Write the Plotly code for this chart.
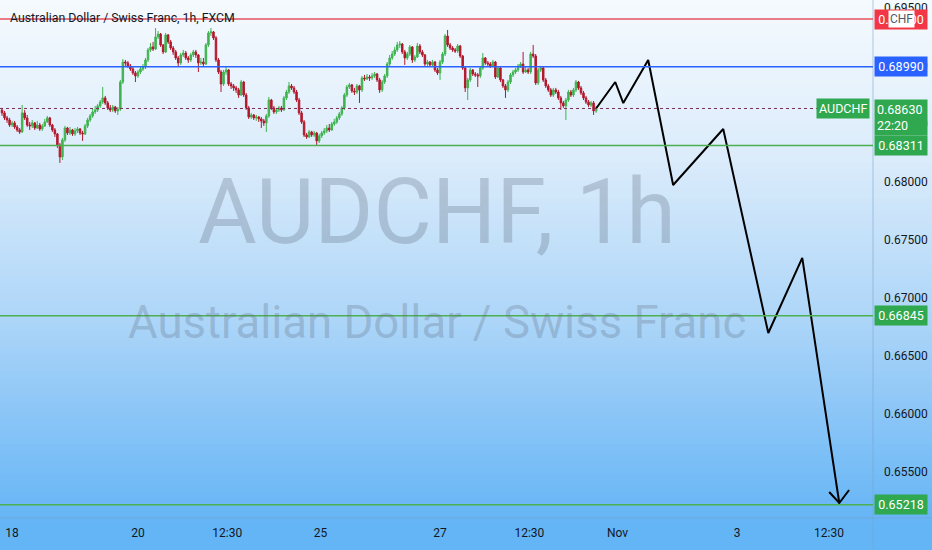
import plotly.graph_objects as go

# ---------------- data ----------------
title_text = "Australian Dollar / Swiss Franc, 1h, FXCM"
watermark_main = "AUDCHF, 1h"
watermark_sub = "Australian Dollar / Swiss Franc"
symbol = "AUDCHF"
countdown = "22:20"

bar_index = list(range(-4, 233))
first_open = 0.68617
closes = [
    0.68592, 0.68549, 0.68531, 0.68488, 0.68506, 0.68471, 0.68445, 0.68428, 0.68592, 0.68549,
    0.68488, 0.68480, 0.68506, 0.68462, 0.68488, 0.68454, 0.68480, 0.68514, 0.68549, 0.68488,
    0.68445, 0.68411, 0.68316, 0.68213, 0.68359, 0.68462, 0.68419, 0.68445, 0.68411, 0.68437,
    0.68454, 0.68419, 0.68411, 0.68480, 0.68531, 0.68566, 0.68600, 0.68617, 0.68652, 0.68686,
    0.68721, 0.68678, 0.68635, 0.68617, 0.68643, 0.68609, 0.68626, 0.68858, 0.69030, 0.69022,
    0.68996, 0.68970, 0.68936, 0.68910, 0.68944, 0.68970, 0.68987, 0.69048, 0.69134, 0.69160,
    0.69142, 0.69246, 0.69271, 0.69177, 0.69117, 0.69263, 0.69203, 0.69151, 0.69117, 0.69065,
    0.69022, 0.69091, 0.69108, 0.69065, 0.69048, 0.69091, 0.69117, 0.69091, 0.69022, 0.69030,
    0.69013, 0.69177, 0.69280, 0.69289, 0.69237, 0.69048, 0.68944, 0.68841, 0.68944, 0.68962,
    0.68841, 0.68824, 0.68807, 0.68790, 0.68746, 0.68858, 0.68746, 0.68635, 0.68557, 0.68574,
    0.68549, 0.68557, 0.68540, 0.68523, 0.68506, 0.68566, 0.68703, 0.68635, 0.68600, 0.68617,
    0.68635, 0.68617, 0.68721, 0.68772, 0.68824, 0.68807, 0.68772, 0.68703, 0.68592, 0.68514,
    0.68402, 0.68385, 0.68428, 0.68402, 0.68419, 0.68351, 0.68394, 0.68419, 0.68437, 0.68462,
    0.68445, 0.68497, 0.68514, 0.68549, 0.68583, 0.68635, 0.68746, 0.68815, 0.68833, 0.68781,
    0.68772, 0.68824, 0.68790, 0.68893, 0.68884, 0.68901, 0.68893, 0.68910, 0.68927, 0.68876,
    0.68790, 0.68858, 0.68910, 0.69013, 0.69065, 0.69099, 0.69134, 0.69177, 0.69185, 0.69117,
    0.69065, 0.69099, 0.69160, 0.69048, 0.69073, 0.69168, 0.69117, 0.69091, 0.69013, 0.69030,
    0.69005, 0.69030, 0.68962, 0.68936, 0.69030, 0.69099, 0.69254, 0.69177, 0.69151, 0.69134,
    0.69125, 0.69168, 0.69082, 0.68979, 0.68807, 0.68876, 0.68962, 0.68927, 0.68919, 0.68910,
    0.68979, 0.69065, 0.69022, 0.69013, 0.68996, 0.69030, 0.68901, 0.68979, 0.68876, 0.68824,
    0.68790, 0.68858, 0.68919, 0.68944, 0.68962, 0.68996, 0.69013, 0.68944, 0.68962, 0.68944,
    0.69099, 0.69082, 0.68850, 0.68962, 0.68979, 0.68876, 0.68824, 0.68790, 0.68746, 0.68790,
    0.68772, 0.68721, 0.68678, 0.68652, 0.68703, 0.68772, 0.68746, 0.68790, 0.68858, 0.68807,
    0.68764, 0.68721, 0.68686, 0.68660, 0.68678, 0.68609, 0.68630,
]
highs = [
    0.68635, 0.68609, 0.68566, 0.68549, 0.68523, 0.68523, 0.68488, 0.68462, 0.68660, 0.68617,
    0.68574, 0.68514, 0.68531, 0.68514, 0.68523, 0.68506, 0.68497, 0.68540, 0.68566, 0.68557,
    0.68497, 0.68462, 0.68419, 0.68333, 0.68376, 0.68480, 0.68471, 0.68471, 0.68454, 0.68462,
    0.68471, 0.68462, 0.68437, 0.68497, 0.68549, 0.68583, 0.68626, 0.68652, 0.68669, 0.68703,
    0.68815, 0.68738, 0.68695, 0.68660, 0.68660, 0.68652, 0.68643, 0.68876, 0.69056, 0.69048,
    0.69039, 0.69013, 0.68987, 0.68953, 0.68962, 0.68987, 0.69013, 0.69065, 0.69151, 0.69194,
    0.69203, 0.69323, 0.69297, 0.69280, 0.69185, 0.69280, 0.69271, 0.69220, 0.69168, 0.69134,
    0.69082, 0.69108, 0.69134, 0.69125, 0.69082, 0.69108, 0.69134, 0.69134, 0.69099, 0.69065,
    0.69065, 0.69194, 0.69297, 0.69323, 0.69297, 0.69254, 0.69065, 0.68962, 0.68962, 0.68996,
    0.68970, 0.68858, 0.68841, 0.68824, 0.68807, 0.68876, 0.68867, 0.68764, 0.68652, 0.68592,
    0.68583, 0.68574, 0.68566, 0.68557, 0.68540, 0.68583, 0.68729, 0.68712, 0.68652, 0.68635,
    0.68652, 0.68652, 0.68738, 0.68790, 0.68858, 0.68841, 0.68824, 0.68790, 0.68721, 0.68609,
    0.68531, 0.68419, 0.68445, 0.68437, 0.68437, 0.68428, 0.68411, 0.68437, 0.68462, 0.68488,
    0.68497, 0.68514, 0.68540, 0.68566, 0.68600, 0.68652, 0.68764, 0.68833, 0.68850, 0.68841,
    0.68807, 0.68841, 0.68833, 0.68910, 0.68919, 0.68927, 0.68919, 0.68936, 0.68944, 0.68936,
    0.68893, 0.68876, 0.68927, 0.69030, 0.69091, 0.69125, 0.69160, 0.69203, 0.69211, 0.69194,
    0.69134, 0.69117, 0.69177, 0.69168, 0.69091, 0.69194, 0.69185, 0.69134, 0.69099, 0.69048,
    0.69039, 0.69048, 0.69039, 0.68979, 0.69048, 0.69117, 0.69271, 0.69306, 0.69194, 0.69168,
    0.69151, 0.69185, 0.69177, 0.69091, 0.68996, 0.68893, 0.68979, 0.68970, 0.68944, 0.68936,
    0.68996, 0.69108, 0.69073, 0.69039, 0.69030, 0.69048, 0.69039, 0.68996, 0.68987, 0.68884,
    0.68841, 0.68876, 0.68936, 0.68962, 0.68979, 0.69013, 0.69030, 0.69117, 0.68987, 0.68979,
    0.69117, 0.69177, 0.69099, 0.68979, 0.68996, 0.68987, 0.68893, 0.68841, 0.68807, 0.68807,
    0.68807, 0.68790, 0.68738, 0.68695, 0.68721, 0.68790, 0.68790, 0.68807, 0.68876, 0.68867,
    0.68824, 0.68781, 0.68738, 0.68703, 0.68695, 0.68695, 0.68652,
]
lows = [
    0.68566, 0.68531, 0.68506, 0.68471, 0.68471, 0.68454, 0.68428, 0.68411, 0.68419, 0.68531,
    0.68471, 0.68445, 0.68462, 0.68445, 0.68454, 0.68437, 0.68437, 0.68471, 0.68506, 0.68471,
    0.68428, 0.68385, 0.68290, 0.68161, 0.68187, 0.68342, 0.68402, 0.68402, 0.68394, 0.68394,
    0.68419, 0.68402, 0.68351, 0.68402, 0.68462, 0.68514, 0.68549, 0.68583, 0.68600, 0.68635,
    0.68669, 0.68660, 0.68617, 0.68600, 0.68600, 0.68592, 0.68574, 0.68609, 0.68841, 0.68996,
    0.68979, 0.68953, 0.68919, 0.68858, 0.68893, 0.68927, 0.68953, 0.68970, 0.69030, 0.69117,
    0.69125, 0.69134, 0.69228, 0.69160, 0.69099, 0.69108, 0.69185, 0.69134, 0.69091, 0.69048,
    0.68996, 0.69005, 0.69073, 0.69048, 0.69022, 0.69030, 0.69073, 0.69065, 0.68944, 0.69005,
    0.68996, 0.69005, 0.69160, 0.69254, 0.69220, 0.69030, 0.68927, 0.68772, 0.68824, 0.68919,
    0.68824, 0.68798, 0.68781, 0.68764, 0.68721, 0.68738, 0.68729, 0.68617, 0.68540, 0.68540,
    0.68531, 0.68523, 0.68514, 0.68462, 0.68480, 0.68428, 0.68549, 0.68617, 0.68583, 0.68583,
    0.68600, 0.68600, 0.68609, 0.68703, 0.68755, 0.68790, 0.68755, 0.68686, 0.68574, 0.68497,
    0.68385, 0.68368, 0.68376, 0.68385, 0.68385, 0.68316, 0.68333, 0.68376, 0.68402, 0.68419,
    0.68428, 0.68437, 0.68480, 0.68497, 0.68531, 0.68566, 0.68617, 0.68729, 0.68798, 0.68764,
    0.68746, 0.68755, 0.68678, 0.68772, 0.68867, 0.68876, 0.68867, 0.68876, 0.68893, 0.68858,
    0.68764, 0.68772, 0.68841, 0.68893, 0.68996, 0.69048, 0.69082, 0.69117, 0.69151, 0.69099,
    0.69005, 0.69048, 0.69082, 0.69022, 0.69030, 0.69065, 0.69099, 0.69073, 0.68996, 0.68996,
    0.68987, 0.68987, 0.68944, 0.68919, 0.68876, 0.69013, 0.69082, 0.69160, 0.69134, 0.69117,
    0.69108, 0.69108, 0.69065, 0.68962, 0.68772, 0.68703, 0.68858, 0.68910, 0.68901, 0.68815,
    0.68893, 0.68962, 0.69005, 0.68996, 0.68979, 0.68987, 0.68884, 0.68893, 0.68858, 0.68807,
    0.68721, 0.68772, 0.68841, 0.68901, 0.68927, 0.68944, 0.68979, 0.68927, 0.68936, 0.68927,
    0.68927, 0.69065, 0.68833, 0.68833, 0.68944, 0.68858, 0.68807, 0.68772, 0.68729, 0.68729,
    0.68755, 0.68703, 0.68617, 0.68635, 0.68531, 0.68686, 0.68729, 0.68729, 0.68772, 0.68790,
    0.68746, 0.68703, 0.68669, 0.68643, 0.68643, 0.68574, 0.68592,
]
opens = [first_open] + closes[:-1]

# horizontal levels
level_values = [0.69400, 0.68990, 0.68311, 0.66845, 0.65218]
level_kinds = ["red", "blue", "green", "green", "green"]
last_price = 0.68630

# projected path
proj_x = [232, 239.6, 242.8, 252.7, 262.6, 282.5, 300.4, 313.9, 328.6]
proj_y = [0.68630, 0.68858, 0.68677, 0.69047, 0.67971, 0.68453, 0.66697, 0.67343, 0.65233]
arrow_x = [324.6, 328.6, 332.5]
arrow_y = [0.65328, 0.65233, 0.65345]

# x axis
tick_pos = [0, 50, 85.5, 122.5, 170, 205.5, 240.5, 288, 324.5]
tick_text = ["18", "20", "12:30", "25", "27", "12:30", "Nov", "3", "12:30"]
x_range = [-4.8, 342]
y_range = [0.65104, 0.69564]

# ---------------- style ----------------
W, H = 932, 550
ML, MR, MT, MB = 0, 59, 0, 32
PW, PH = W - ML - MR, H - MT - MB
FONT = "Roboto, Liberation Sans, sans-serif"
UP, DOWN = "#3fb34f", "#b3182c"
LINE_COL = {"red": "#e8505f", "blue": "#2962ff", "green": "#4caf50"}
LABEL_COL = {"red": "#f23645", "blue": "#2962ff", "green": "#2fa84f"}
WM_COL = "rgba(95,110,128,0.30)"

fig = go.Figure()
fig.add_trace(go.Candlestick(
    x=bar_index, open=opens, high=highs, low=lows, close=closes,
    increasing=dict(line=dict(color=UP, width=1), fillcolor=UP),
    decreasing=dict(line=dict(color=DOWN, width=1), fillcolor=DOWN),
    whiskerwidth=0, showlegend=False, hoverinfo="skip",
))
fig.add_trace(go.Scatter(x=proj_x, y=proj_y, mode="lines",
                         line=dict(color="#000000", width=2), showlegend=False, hoverinfo="skip"))
fig.add_trace(go.Scatter(x=arrow_x, y=arrow_y, mode="lines",
                         line=dict(color="#000000", width=2), showlegend=False, hoverinfo="skip"))

shapes = []
# background gradient (page coords -> paper coords)
stops = [(0.0, (246, 250, 254)), (0.3, (220, 236, 251)), (0.62, (172, 213, 248)), (1.0, (102, 181, 246))]
def grad(t):
    for (t0, c0), (t1, c1) in zip(stops[:-1], stops[1:]):
        if t <= t1:
            f = (t - t0) / (t1 - t0)
            return "rgb(%d,%d,%d)" % tuple(round(a + (b - a) * f) for a, b in zip(c0, c1))
    return "rgb(%d,%d,%d)" % stops[-1][1]
step = 6
for py in range(0, PH, step):
    shapes.append(dict(type="rect", xref="paper", yref="paper", layer="below",
                       x0=0, x1=W / PW, y0=(PH - py - step - 0.5) / PH, y1=(PH - py) / PH,
                       fillcolor=grad((py + step / 2) / PH), line=dict(width=0)))
# axis separators
shapes.append(dict(type="line", xref="paper", yref="paper", x0=1, x1=1, y0=-MB / PH, y1=1,
                   line=dict(color="rgba(120,160,200,0.55)", width=1)))
shapes.append(dict(type="line", xref="paper", yref="paper", x0=0, x1=W / PW, y0=0, y1=0,
                   line=dict(color="rgba(120,160,200,0.55)", width=1)))
# level lines
for v, k in zip(level_values, level_kinds):
    shapes.append(dict(type="line", xref="paper", yref="y", x0=0, x1=1, y0=v, y1=v,
                       line=dict(color=LINE_COL[k], width=1.5)))
shapes.append(dict(type="line", xref="paper", yref="y", x0=0, x1=0.94, y0=last_price, y1=last_price,
                   line=dict(color="#7b2d55", width=1, dash="dot")))

ann = []
ann.append(dict(text=watermark_main, xref="paper", yref="paper", x=0.5, y=1 - 212 / PH,
                xanchor="center", yanchor="middle", showarrow=False,
                font=dict(family=FONT, size=90, color=WM_COL)))
ann.append(dict(text=watermark_sub, xref="paper", yref="paper", x=0.5, y=1 - 322 / PH,
                xanchor="center", yanchor="middle", showarrow=False,
                font=dict(family=FONT, size=45.5, color=WM_COL)))
ann.append(dict(text=title_text, xref="paper", yref="paper", x=8 / PW, y=1 - 18 / PH,
                xanchor="left", yanchor="middle", showarrow=False,
                font=dict(family=FONT, size=12.3, color="#131722")))
for v, k in zip(level_values, level_kinds):
    ann.append(dict(text="%.5f" % v, xref="paper", yref="y", x=1, y=v, xanchor="left", yanchor="middle",
                    showarrow=False, bgcolor=LABEL_COL[k], borderpad=2, width=48, align="center", xshift=1,
                    font=dict(family=FONT, size=12.5, color="#ffffff")))
ann.append(dict(text="CHF", xref="paper", yref="y", x=1, y=level_values[0], xanchor="left", yanchor="middle",
                showarrow=False, bgcolor="#ffffff", borderpad=1, xshift=15,
                font=dict(family=FONT, size=12, color="#555a66")))
ann.append(dict(text="%.5f<br>%s" % (last_price, countdown), xref="paper", yref="y", x=1, y=last_price,
                xanchor="left", yanchor="top", yshift=9, showarrow=False, bgcolor=LABEL_COL["green"],
                borderpad=2, width=48, align="left", xshift=1,
                font=dict(family=FONT, size=12.5, color="#ffffff")))
ann.append(dict(text=symbol, xref="paper", yref="y", x=1, y=last_price, xanchor="right", yanchor="middle",
                showarrow=False, bgcolor=LABEL_COL["green"], borderpad=2, xshift=-3,
                font=dict(family=FONT, size=12.5, color="#ffffff")))

fig.update_layout(
    width=W, height=H, margin=dict(l=ML, r=MR, t=MT, b=MB, autoexpand=False),
    paper_bgcolor="#64b5f6", plot_bgcolor="rgba(0,0,0,0)",
    shapes=shapes, annotations=ann, showlegend=False, boxgap=0.15,
    xaxis=dict(range=x_range, tickvals=tick_pos, ticktext=tick_text, showgrid=False, zeroline=False,
               rangeslider=dict(visible=False), ticks="", showline=False, automargin=False,
               ticklabelstandoff=6,
               tickfont=dict(family=FONT, size=12, color="#131722")),
    yaxis=dict(range=y_range, side="right", dtick=0.005, tick0=0.65, tickformat=".5f", showgrid=False,
               zeroline=False, ticks="", showline=False, ticklabelstandoff=10, automargin=False,
               tickfont=dict(family=FONT, size=12, color="#131722")),
)
fig.write_html("out.html", config={"displayModeBar": False},
               post_script="document.body.style.margin='0';document.body.style.overflow='hidden';")
